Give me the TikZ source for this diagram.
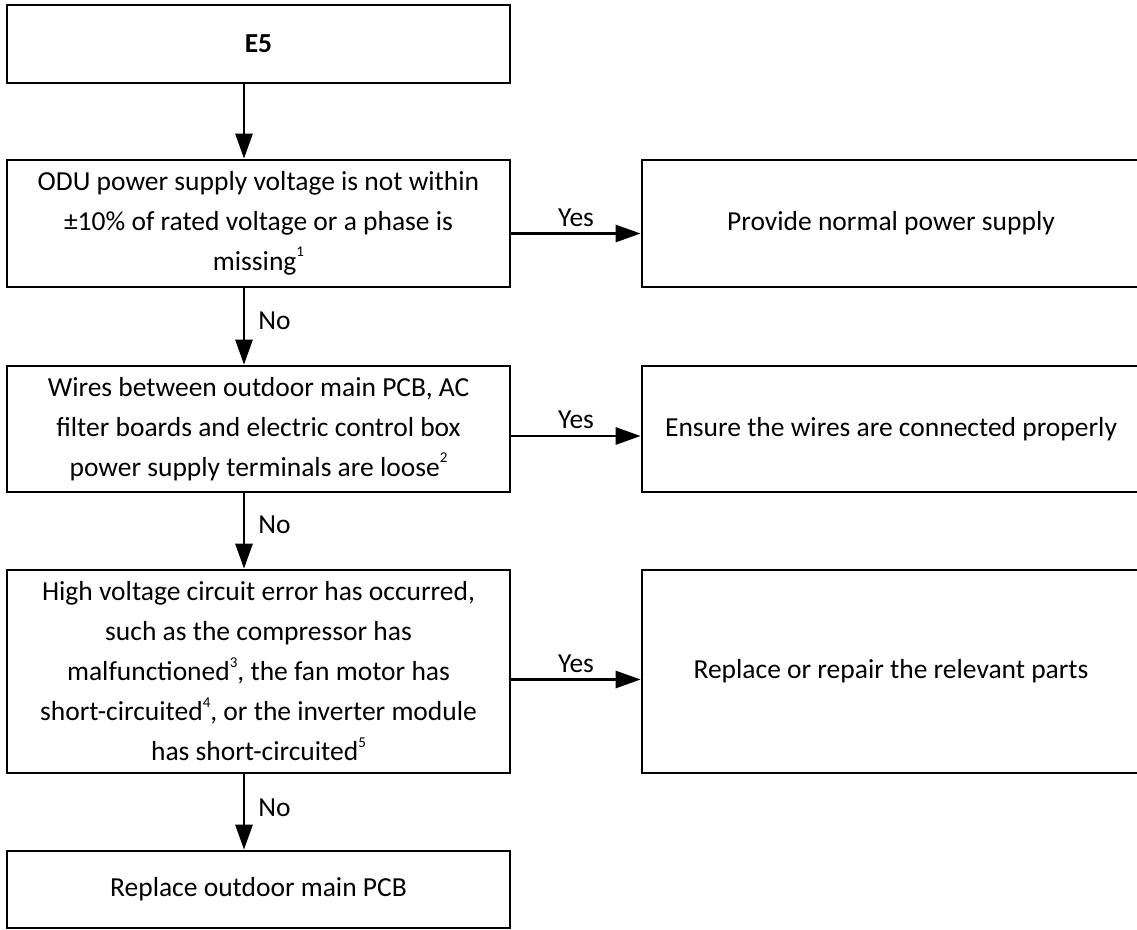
\documentclass[tikz,border=0pt]{standalone}
\usepackage{fontspec}
\setmainfont{Carlito}
\usetikzlibrary{arrows.meta}
\newcommand\fnmark[1]{\raisebox{0.5em}{\fontsize{15}{15}\selectfont #1}}
\begin{document}
\begin{tikzpicture}[x=1pt,y=-1pt,
  box/.style={draw, line width=2.7pt, inner sep=0pt, align=center,
    minimum width=503pt, font=\fontsize{27.5}{40}\selectfont},
  rbox/.style={box, minimum width=498pt},
  conn/.style={line width=2.8pt, -{Triangle[length=25pt,width=17pt]}},
  lab/.style={font=\fontsize{27.5}{33}\selectfont, inner sep=0pt}]
\useasboundingbox (0,0) rectangle (1137,929);
\clip (0,0) rectangle (1137,929);

% left column
\node[box, minimum height=78pt]  (e5) at (258.5,44)    {\bfseries E5};
\node[box, minimum height=127pt] (b2) at (258.5,223.5) {ODU power supply voltage is not within\\ ±10\% of rated voltage or a phase is\\ missing\fnmark{1}};
\node[box, minimum height=126pt] (b3) at (258.5,429)   {Wires between outdoor main PCB, AC\\ filter boards and electric control box\\ power supply terminals are loose\fnmark{2}};
\node[box, minimum height=203pt] (b4) at (258.5,671.5) {High voltage circuit error has occurred,\\ such as the compressor has\\ malfunctioned\fnmark{3}, the fan motor has\\ short-circuited\fnmark{4}, or the inverter module\\ has short-circuited\fnmark{5}};
\node[box, minimum height=77pt]  (b5) at (258.5,889.5) {Replace outdoor main PCB};

% right column
\node[rbox, minimum height=127pt] (r1) at (891,223.5) {\raisebox{-8pt}{Provide normal power supply}};
\node[rbox, minimum height=126pt] (r2) at (891,429)   {Ensure the wires are connected properly};
\node[rbox, minimum height=203pt] (r3) at (891,671.5) {Replace or repair the relevant parts};

% vertical connectors
\draw[conn] ([xshift=-14.5pt]e5.south) -- ([xshift=-14.5pt]b2.north);
\draw[conn] ([xshift=-14.5pt]b2.south) -- ([xshift=-14.5pt]b3.north)
  node[lab, midway, anchor=west, xshift=13pt, yshift=6pt] {No};
\draw[conn] ([xshift=-14.5pt]b3.south) -- ([xshift=-14.5pt]b4.north)
  node[lab, midway, anchor=west, xshift=13pt, yshift=6pt] {No};
\draw[conn] ([xshift=-14.5pt]b4.south) -- ([xshift=-14.5pt]b5.north)
  node[lab, midway, anchor=west, xshift=13pt, yshift=4pt] {No};

% horizontal connectors
\draw[conn] ([yshift=-10pt]b2.east) -- ([yshift=-10pt]r1.west)
  node[lab, midway, anchor=south, yshift=5.5pt] {Yes};
\draw[conn] ([yshift=-7pt]b3.east) -- ([yshift=-7pt]r2.west)
  node[lab, midway, anchor=south, yshift=5.5pt] {Yes};
\draw[conn] ([yshift=-8pt]b4.east) -- ([yshift=-8pt]r3.west)
  node[lab, midway, anchor=south, yshift=5.5pt] {Yes};
\end{tikzpicture}
\end{document}
